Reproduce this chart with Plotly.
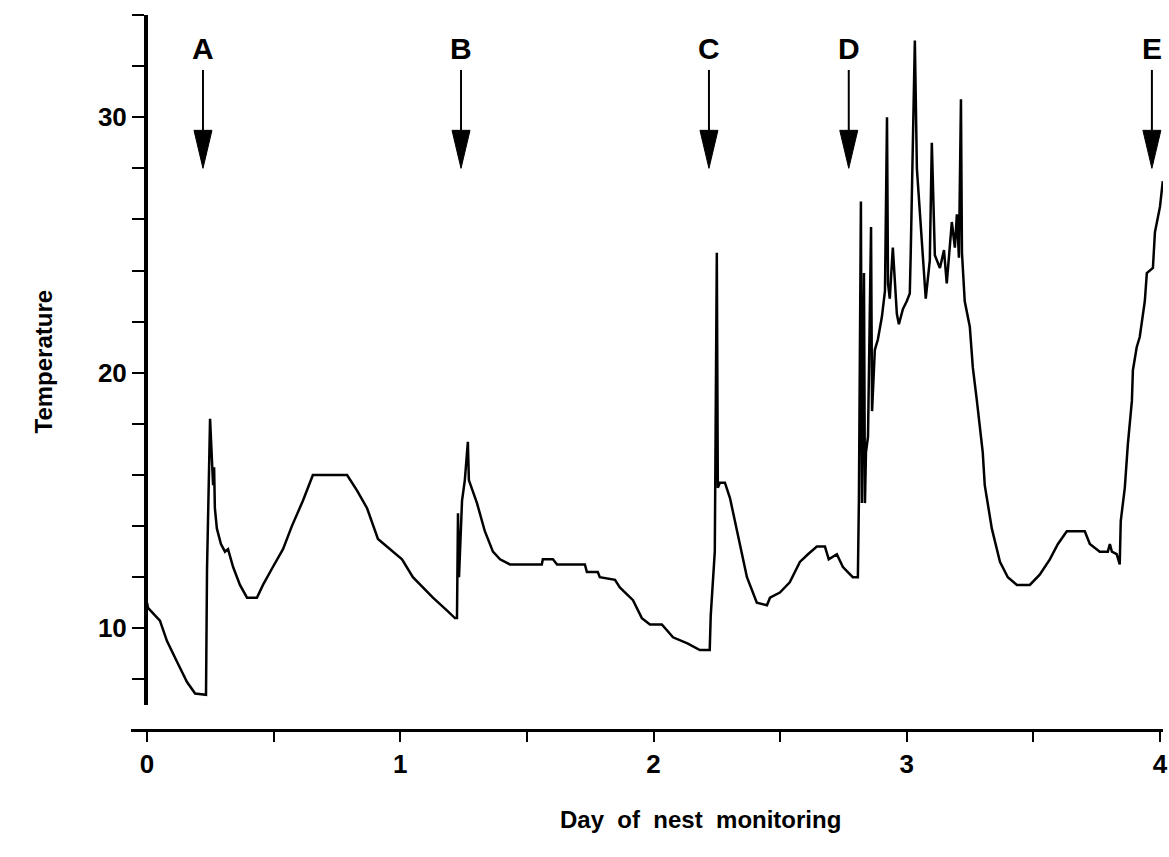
import plotly.graph_objects as go

# ---- data ----
days = [0.000, 0.004, 0.051, 0.079, 0.118, 0.158, 0.190, 0.233, 0.237, 0.245, 0.249,
        0.261, 0.265, 0.268, 0.276, 0.292, 0.308, 0.320, 0.340, 0.367, 0.395, 0.434,
        0.458, 0.497, 0.537, 0.572, 0.616, 0.655, 0.790, 0.829, 0.869, 0.912, 0.959,
        1.007, 1.050, 1.090, 1.129, 1.184, 1.216, 1.224, 1.228, 1.232, 1.244, 1.255,
        1.267, 1.271, 1.303, 1.334, 1.366, 1.394, 1.433, 1.559, 1.563, 1.603, 1.619,
        1.729, 1.737, 1.780, 1.788, 1.848, 1.867, 1.919, 1.954, 1.986, 2.033, 2.077,
        2.136, 2.183, 2.222, 2.226, 2.242, 2.250, 2.254, 2.262, 2.282, 2.302, 2.329,
        2.369, 2.408, 2.448, 2.460, 2.499, 2.538, 2.578, 2.610, 2.645, 2.677, 2.692,
        2.724, 2.748, 2.787, 2.807, 2.811, 2.819, 2.823, 2.831, 2.835, 2.839, 2.847,
        2.859, 2.863, 2.867, 2.874, 2.886, 2.902, 2.914, 2.922, 2.926, 2.933, 2.945,
        2.961, 2.969, 2.985, 3.000, 3.012, 3.016, 3.032, 3.040, 3.052, 3.064, 3.075,
        3.091, 3.099, 3.111, 3.131, 3.147, 3.158, 3.178, 3.190, 3.198, 3.206, 3.214,
        3.218, 3.229, 3.249, 3.261, 3.277, 3.289, 3.300, 3.308, 3.336, 3.368, 3.399,
        3.435, 3.486, 3.525, 3.565, 3.597, 3.632, 3.703, 3.723, 3.762, 3.794, 3.802,
        3.810, 3.829, 3.841, 3.845, 3.861, 3.873, 3.889, 3.893, 3.908, 3.920, 3.940,
        3.948, 3.972, 3.980, 4.000, 4.011]
temps = [11.0, 10.8, 10.3, 9.5, 8.7, 7.9, 7.45, 7.4, 12.3, 15.5, 18.2,
         15.6, 16.3, 14.7, 13.9, 13.3, 13.0, 13.1, 12.4, 11.7, 11.2, 11.2,
         11.7, 12.4, 13.1, 14.0, 15.0, 16.0, 16.0, 15.4, 14.7, 13.5, 13.1,
         12.7, 12.0, 11.6, 11.2, 10.7, 10.4, 10.4, 14.5, 12.0, 15.0, 15.8,
         17.3, 15.8, 14.9, 13.8, 13.0, 12.7, 12.5, 12.5, 12.7, 12.7, 12.5,
         12.5, 12.2, 12.2, 12.0, 11.9, 11.6, 11.1, 10.4, 10.15, 10.15, 9.65,
         9.4, 9.15, 9.15, 10.5, 13.0, 24.7, 15.5, 15.7, 15.7, 15.1, 13.8,
         12.0, 11.0, 10.9, 11.2, 11.4, 11.8, 12.6, 12.9, 13.2, 13.2, 12.7,
         12.9, 12.4, 12.0, 12.0, 15.0, 26.7, 14.9, 23.9, 14.9, 16.9, 17.5,
         25.7, 18.5, 19.7, 20.9, 21.3, 22.2, 23.2, 30.0, 23.5, 22.9, 24.9,
         22.3, 21.9, 22.5, 22.8, 23.1, 24.8, 33.0, 28.0, 26.4, 24.5, 22.9,
         24.4, 29.0, 24.6, 24.1, 24.8, 23.5, 25.9, 24.9, 26.2, 24.5, 30.7,
         24.7, 22.8, 21.8, 20.2, 18.9, 17.8, 16.9, 15.6, 13.9, 12.6, 12.0,
         11.7, 11.7, 12.1, 12.7, 13.3, 13.8, 13.8, 13.3, 13.0, 13.0, 13.3,
         13.0, 12.9, 12.5, 14.2, 15.5, 17.2, 18.9, 20.1, 21.0, 21.4, 22.8,
         23.9, 24.1, 25.5, 26.5, 27.5]

event_labels = ["A", "B", "C", "D", "E"]
event_days = [0.221, 1.240, 2.219, 2.771, 3.968]

x_tickvals = [0, 0.5, 1, 1.5, 2, 2.5, 3, 3.5, 4]
x_ticktext = ["0", "", "1", "", "2", "", "3", "", "4"]
y_tickvals = [8, 10, 12, 14, 16, 18, 20, 22, 24, 26, 28, 30, 32, 34]
y_ticktext = ["", "10", "", "", "", "", "20", "", "", "", "", "30", "", ""]

FONT = "Liberation Sans, Arial, sans-serif"

W, H = 1169, 857
ML, MR, MT = 131, 6, 15
MB = H - 730
PW = W - ML - MR
PH = H - MT - MB

fig = go.Figure()
fig.add_trace(go.Scatter(x=days, y=temps, mode="lines",
                         line=dict(color="black", width=2.5), hoverinfo="skip",
                         showlegend=False))

# arrows and labels for events
LABEL_Y = 32.7
SHAFT_TOP = 31.85
HEAD_BASE = 29.5
TIP = 28.0
for lab, d in zip(event_labels, event_days):
    fig.add_annotation(x=d, y=LABEL_Y, text=lab, showarrow=False,
                       font=dict(family=FONT, size=30, color="black", weight="bold"))
    fig.add_shape(type="line", xref="x", yref="y", x0=d, x1=d, y0=SHAFT_TOP, y1=HEAD_BASE,
                  line=dict(color="black", width=2))
    fig.add_shape(type="path", xref="x", yref="y",
                  xsizemode="pixel", xanchor=d, ysizemode="pixel", yanchor=TIP,
                  path="M -9,38 L 9,38 L 0,0 Z",
                  fillcolor="black", line=dict(color="black", width=1))

# axis titles
fig.add_annotation(xref="paper", yref="paper", x=(700 - ML) / PW, y=-(835 - 730) / PH,
                   text="Day  of  nest  monitoring", showarrow=False,
                   font=dict(family=FONT, size=24, color="black", weight="bold"))
fig.add_annotation(xref="paper", yref="paper", x=-(ML - 27) / PW, y=(730 - 362) / PH,
                   text="Temperature", textangle=-90, showarrow=False,
                   font=dict(family=FONT, size=24, color="black", weight="bold"))

# x range chosen so that day 0 sits 16 px right of the plot's left edge, day 4 at px 1160
x_lo = -16 / 253.25
x_hi = 4 + (W - MR - 1160) / 253.25

fig.update_layout(
    width=W, height=H,
    margin=dict(l=ML, r=MR, t=MT, b=MB, autoexpand=False),
    paper_bgcolor="white", plot_bgcolor="white",
    xaxis=dict(range=[x_lo, x_hi], anchor="free", position=0,
               showline=True, linecolor="black", linewidth=3,
               ticks="outside", ticklen=10, tickwidth=2, tickcolor="black",
               tickvals=x_tickvals, ticktext=x_ticktext,
               tickfont=dict(family=FONT, size=26, color="black", weight="bold"),
               showgrid=False, zeroline=False),
    yaxis=dict(range=[7, 34], domain=[25 / PH, 1], anchor="free", position=15 / PW,
               showline=True, linecolor="black", linewidth=4,
               ticks="outside", ticklen=12, tickwidth=2, tickcolor="black",
               tickvals=y_tickvals, ticktext=y_ticktext,
               tickfont=dict(family=FONT, size=26, color="black", weight="bold"),
               showgrid=False, zeroline=False),
)

fig.write_html("out.html",
               config={"displayModeBar": False},
               post_script="document.body.style.margin='0px';"
                           "document.body.style.overflow='hidden';"
                           "document.documentElement.style.overflow='hidden';")
